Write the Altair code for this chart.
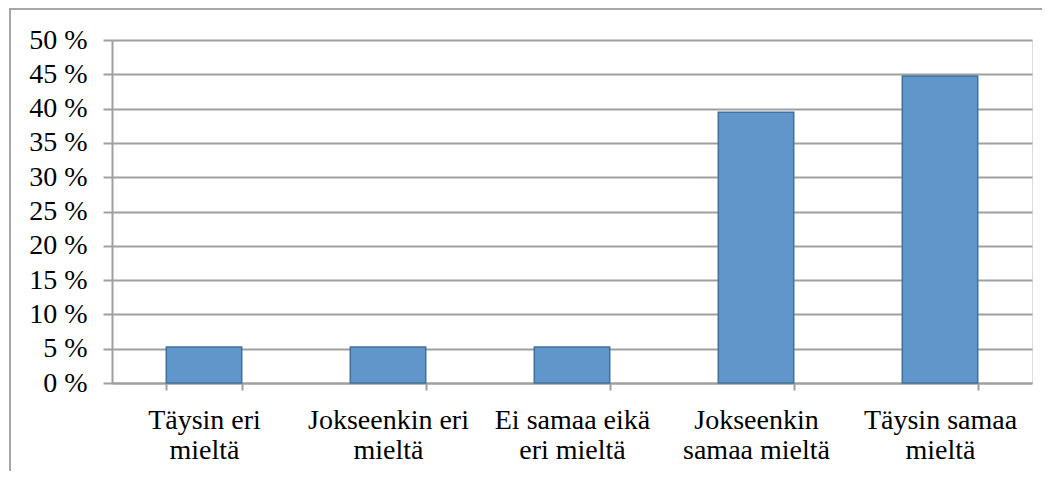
import altair as alt
import pandas as pd

categories = [
    "Täysin eri\nmieltä",
    "Jokseenkin eri\nmieltä",
    "Ei samaa eikä\neri mieltä",
    "Jokseenkin\nsamaa mieltä",
    "Täysin samaa\nmieltä",
]
shares = [5.26, 5.26, 5.26, 39.47, 44.74]
y_ticks = list(range(0, 51, 5))

df = pd.DataFrame({"category": categories, "share": shares})

grid = "#A0A0A0"
font = "Liberation Serif"

bars = alt.Chart(df).mark_bar(color="#6096C9", stroke="#41719C", strokeWidth=1.5).encode(
    x=alt.X(
        "category:N", sort=None, title=None,
        scale=alt.Scale(paddingInner=0.59, paddingOuter=0.295),
        axis=alt.Axis(
            labelAngle=0, labelExpr="split(datum.label, '\\n')", labelLineHeight=30,
            labelFontSize=28, labelFont=font, labelColor="black", labelLimit=400,
            tickBand="extent", tickSize=7, tickColor=grid, tickWidth=2,
            domainColor=grid, domainWidth=2, labelPadding=16, grid=False,
            labelBaseline="top",
        ),
    ),
    y=alt.Y(
        "share:Q", title=None, scale=alt.Scale(domain=[0, 50]),
        axis=alt.Axis(
            values=y_ticks, labelExpr="datum.value + ' %'", labelFontSize=28,
            labelFont=font, labelColor="black", grid=True, gridColor=grid,
            gridWidth=2, tickSize=9, tickColor=grid, tickWidth=2,
            domainColor=grid, domainWidth=2, labelPadding=16,
        ),
    ),
)

border = alt.Chart(pd.DataFrame({"k": [0]})).mark_rect(
    filled=False, stroke="#A6A6A6", strokeWidth=2
).encode(
    x=alt.value(-102), x2=alt.value(3000), y=alt.value(-31), y2=alt.value(3000)
)

chart = alt.layer(bars, border).properties(
    width=920, height=343,
    autosize=alt.AutoSizeParams(type="none"),
    padding={"left": 104, "top": 32, "right": 10, "bottom": 88},
).configure_view(fill="#EBEEF3", stroke="transparent").configure(background="white")

chart.save("out.html", embed_options={"renderer": "svg", "actions": False})
